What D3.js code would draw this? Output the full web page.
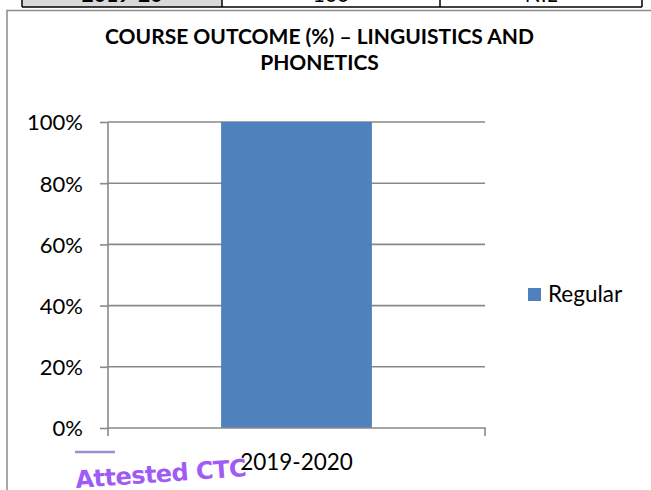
<!DOCTYPE html>
<html><head><meta charset="utf-8">
<script src="https://cdn.jsdelivr.net/npm/d3@7"></script>
<style>body{margin:0;background:#fff}svg{display:block}</style>
</head><body>
<svg id="c" width="651" height="490"></svg>
<script>
const categories = ["2019-2020"];
const seriesName = "Regular";
const regularValues = [1.0];
const yTicks = [0, 0.2, 0.4, 0.6, 0.8, 1.0];
const titleLines = ["COURSE OUTCOME (%) – LINGUISTICS AND", "PHONETICS"];
const tableRow = ["2019-20", "100", "NIL"];

const svg = d3.select("#c");
const font = "Lato, 'Open Sans', sans-serif";

// table fragment on top
const cellX = [22, 222, 440, 642];
svg.append("rect").attr("x", cellX[0]).attr("y", -5).attr("width", cellX[1]-cellX[0]).attr("height", 12).attr("fill", "#d9d9d9");
svg.append("line").attr("x1", cellX[0]).attr("x2", cellX[3]).attr("y1", 7).attr("y2", 7).attr("stroke", "#000").attr("stroke-width", 1.5);
cellX.forEach(x => svg.append("line").attr("x1", x).attr("x2", x).attr("y1", -2).attr("y2", 7).attr("stroke", "#000").attr("stroke-width", 1.5));
tableRow.forEach((t, i) => svg.append("text").attr("x", (cellX[i]+cellX[i+1])/2).attr("y", 2)
  .attr("text-anchor", "middle").attr("font-family", font).attr("font-size", 21)
  .attr("font-weight", i === 0 ? "bold" : "normal").text(t));

// chart box
svg.append("rect").attr("x", 7).attr("y", 10.5).attr("width", 660).attr("height", 500)
  .attr("fill", "none").attr("stroke", "#8c8c8c").attr("stroke-width", 1.5);

// title
titleLines.forEach((t, i) => svg.append("text").attr("x", 319.5).attr("y", 44 + i*26)
  .attr("text-anchor", "middle").attr("font-family", font).attr("font-weight", "bold")
  .attr("font-size", 21).attr("fill", "#000").text(t));

const x = d3.scaleBand().domain(categories).range([108, 485]).paddingInner(0.6).paddingOuter(0.3);
const y = d3.scaleLinear().domain([0, 1]).range([428, 122]);

// gridlines
svg.append("g").selectAll("line").data(yTicks.filter(d => d > 0)).join("line")
  .attr("x1", 108).attr("x2", 485).attr("y1", d => y(d)).attr("y2", d => y(d))
  .attr("stroke", "#898989").attr("stroke-width", 1.6);

// bars
svg.append("g").selectAll("rect").data(categories).join("rect")
  .attr("x", d => x(d)).attr("width", x.bandwidth())
  .attr("y", (d, i) => y(regularValues[i])).attr("height", (d, i) => y(0) - y(regularValues[i]))
  .attr("fill", "#4f81bd");

// y axis
const yAxis = svg.append("g").attr("transform", "translate(108,0)")
  .call(d3.axisLeft(y).tickValues(yTicks).tickFormat(d3.format(".0%")).tickSize(8).tickPadding(17));
yAxis.select(".domain").attr("stroke", "#898989").attr("stroke-width", 1.6).attr("d", "M0,122V428");
yAxis.selectAll(".tick line").attr("stroke", "#898989").attr("stroke-width", 1.6);
yAxis.selectAll(".tick text").attr("font-family", font).attr("font-size", 22).attr("fill", "#000").attr("dy", "0.36em");

// x axis
const xAxis = svg.append("g").attr("transform", "translate(0,428)")
  .call(d3.axisBottom(x).tickSize(0));
xAxis.select(".domain").attr("stroke", "#898989").attr("stroke-width", 1.6).attr("d", "M108,8V0H485V8");
xAxis.selectAll(".tick text").attr("font-family", font).attr("font-size", 22.5).attr("fill", "#000")
  .attr("y", 42).attr("dy", 0);

// legend
const lg = svg.append("g").attr("transform", "translate(528,288)");
lg.append("rect").attr("width", 13).attr("height", 13).attr("fill", "#4f81bd");
lg.append("text").attr("x", 20).attr("y", 14).attr("font-family", font).attr("font-size", 22.5).attr("fill", "#000").text(seriesName);

// stamp
svg.append("line").attr("x1", 75).attr("x2", 115).attr("y1", 452).attr("y2", 452).attr("stroke", "#9a8fd0").attr("stroke-width", 2.5);
svg.append("text").attr("x", 76).attr("y", 488).attr("transform", "rotate(-4 76 488)")
  .attr("font-family", "'DejaVu Sans', sans-serif").attr("font-weight", "bold").attr("font-size", 24)
  .attr("letter-spacing", -0.5)
  .attr("fill", "#8f3ff5").attr("opacity", 0.85).text("Attested CTC");
</script>
</body></html>
